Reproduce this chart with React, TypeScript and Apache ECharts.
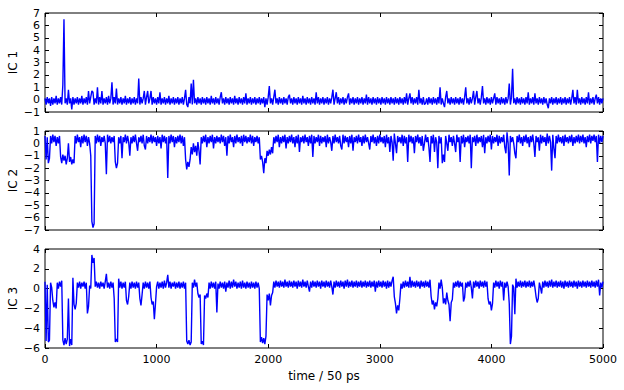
import React, { useEffect, useRef } from "react";
import * as echarts from "echarts";

// time step between stored samples (time / 50 ps)
const STEP = 10;

const ic1: number[] = [
  0.1, -0.4, 0.2, -0.3, 0.1, -0.5, 0.2, -0.4, 0.1, -0.3, 0.3, -0.4, 0.1, -0.3, 0.2, -0.4, 1.2, 6.5, -0.3, 0.1,
  -0.4, 0.8, -0.3, 0.1, -0.8, 0.2, -0.4, 0.1, -0.3, 0.2, -0.4, 0.1, -0.3, 0.3, -0.4, 0.1, -0.3, 0.2, -0.4, 0.7,
  -0.3, 0.2, 0.7, 0.6, -0.4, 0.1, -0.3, 1.0, -0.4, 0.2, -0.3, 0.7, -0.4, 0.1, -0.3, 0.2, -0.4, 0.3, -0.3, 0.1,
  1.4, -0.4, 0.2, -0.3, 0.9, -0.4, 0.1, -0.3, 0.2, -0.4, 0.1, -0.3, 0.3, -0.4, 0.1, -0.3, 0.2, -0.4, 0.1, -0.3,
  0.2, -0.4, 0.1, -0.3, 1.7, -0.4, 0.2, -0.3, 0.1, 0.7, -0.4, 0.2, 0.7, -0.3, 0.1, 0.7, -0.4, 0.2, -0.3, 0.1,
  -0.4, 0.2, -0.3, 0.6, -0.4, 0.1, -0.3, 0.2, -0.4, 0.1, -0.3, 0.3, -0.4, 0.1, -0.3, 0.2, -0.4, 0.1, -0.3, 0.2,
  -0.4, 0.1, -0.3, 0.2, -0.4, 0.1, 0.8, -0.4, -0.6, 0.2, -0.3, 1.3, -0.4, 1.6, -0.3, 0.1, -0.4, 0.2, -0.3, 0.1,
  -0.4, 0.2, -0.3, 0.1, -0.4, 0.2, -0.3, 0.1, -0.4, 0.3, -0.3, 0.1, -0.4, 0.2, -0.3, 0.1, -0.4, 0.2, 0.6, -0.3,
  0.1, -0.4, 0.2, -0.3, 0.1, -0.4, 0.2, -0.3, 0.1, -0.4, 0.3, -0.3, 0.1, -0.4, 0.2, -0.3, 0.1, -0.4, 0.2, -0.3,
  0.5, -0.4, 0.1, -0.3, 0.2, -0.4, 0.1, -0.3, 0.2, -0.4, 0.1, -0.3, 0.2, -0.4, 0.1, -0.3, 0.2, -0.6, 0.1, -0.4,
  0.2, 1.1, -0.3, 0.1, -0.4, 0.2, 0.8, -0.3, 0.1, -0.4, 0.2, -0.3, 0.1, -0.4, 0.2, -0.3, 0.1, -0.4, 0.2, 0.4,
  -0.3, 0.1, -0.4, 0.2, -0.3, 0.1, -0.4, 0.2, -0.3, 0.1, -0.4, 0.3, -0.3, 0.1, -0.4, 0.2, -0.3, 0.1, -0.4, 0.2,
  -0.3, 0.1, -0.4, 0.6, -0.3, 0.2, -0.4, 0.1, -0.3, 0.2, -0.4, 0.1, -0.3, 0.2, -0.4, 0.1, -0.3, 0.2, 0.8, -0.4,
  0.1, 0.6, -0.3, 0.2, -0.4, 0.1, -0.3, 0.2, -0.4, 0.1, -0.3, 0.2, 0.5, -0.4, 0.1, -0.3, 0.2, -0.4, 0.1, -0.3,
  0.2, -0.4, 0.1, -0.3, 0.2, -0.4, 0.1, -0.3, 0.4, -0.4, 0.2, -0.3, 0.1, -0.4, 0.2, -0.3, 0.1, -0.4, 0.2, -0.3,
  0.1, -0.4, 0.2, -0.3, 0.1, -0.4, 0.2, -0.3, 0.1, -0.4, 0.2, -0.3, 0.1, -0.4, 0.2, -0.3, 0.1, -0.4, 0.2, -0.3,
  0.1, -0.4, 0.2, -0.3, 0.5, -0.4, 0.1, 0.5, -0.3, 0.2, -0.4, 0.1, -0.3, 0.2, -0.4, 0.8, -0.3, 0.1, -0.4, 0.2,
  -0.4, -0.3, 0.1, -0.4, 0.2, -0.3, 0.1, -0.4, 0.2, -0.3, 0.1, -0.4, 0.2, -0.3, 1.0, -0.4, 0.1, -0.3, -0.6, 0.2,
  0.7, -0.3, 0.1, -0.4, 0.2, -0.3, 0.1, -0.4, 0.2, -0.3, 0.1, -0.4, 0.2, -0.3, 0.1, -0.4, 0.2, 1.0, -0.3, 0.1,
  -0.4, 0.2, -0.3, 0.1, 0.7, -0.4, 0.2, 0.7, -0.3, 0.1, -0.4, 0.2, 1.1, -0.3, 0.1, -0.4, 0.2, -0.3, 0.1, -0.4,
  0.2, -0.3, 0.1, 0.5, -0.4, 0.2, -0.3, 0.1, -0.4, 0.2, -0.3, 0.1, -0.4, 0.2, -0.3, 0.1, 1.3, -0.4, 0.2, 2.5,
  -0.3, 0.1, -0.4, 0.2, -0.3, 0.1, -0.4, 0.2, -0.3, 0.1, -0.4, 0.2, -0.3, 0.6, -0.4, 0.1, -0.3, 0.2, -0.4, 0.5,
  -0.3, 0.1, -0.4, 0.2, -0.3, 0.1, -0.4, 0.2, -0.3, 0.1, -0.4, -0.7, 0.1, -0.3, 0.2, -0.4, 0.1, -0.3, 0.2, -0.4,
  0.1, -0.3, 0.2, -0.4, 0.1, -0.3, 0.2, -0.4, 0.1, -0.3, 0.2, -0.4, 0.1, 0.8, -0.3, 0.2, -0.4, 0.8, -0.3, 0.1,
  -0.4, 0.2, -0.3, 0.1, -0.4, 0.2, -0.3, 0.6, -0.4, 0.1, -0.3, 0.2, -0.4, 0.1, 0.4, -0.3, 0.2, -0.4, 0.1, -0.3,
  0.1,
];

const ic2: number[] = [
  0.6, -1.3, 0.5, -1.6, -1.2, 0.6, 0.0, 0.7, 0.1, 0.6, -0.2, 0.5, 0.0, 0.6, -1.1, -1.6, -0.9, -1.4, -1.0, -1.7,
  -1.2, 0.0, -1.5, -1.1, -1.7, -1.3, -1.6, 0.6, 0.0, 0.7, 0.1, 0.5, -0.3, 0.6, 0.0, 0.7, 0.1, 0.6, -0.2, 0.5,
  0.0, -1.0, -6.3, -6.8, -6.5, 0.6, 0.0, 0.7, 0.1, 0.6, -0.2, 0.5, 0.1, 0.6, 0.0, -2.5, 0.7, 0.1, 0.6, 0.0,
  0.5, 0.1, 0.6, -1.5, -2.0, -1.6, 0.5, 0.0, 0.6, -1.2, 0.5, 0.1, 0.7, 0.0, 0.6, 0.1, -1.0, 0.5, 0.0, 0.6,
  0.1, 0.7, 0.0, -0.6, 0.5, 0.1, 0.6, 0.0, 0.7, -0.2, -0.5, 0.6, 0.0, 0.5, 0.1, 0.7, 0.0, 0.6, 0.1, 0.5,
  -0.2, 0.6, 0.0, 0.5, -0.4, 0.7, 0.1, 0.6, 0.0, 0.5, -2.8, 0.6, 0.0, 0.7, 0.1, 0.6, -0.3, 0.5, 0.0, 0.6,
  0.1, 0.7, 0.0, 0.6, -0.2, 0.5, -1.3, -2.1, -1.5, -1.9, -1.3, -0.3, -0.9, 0.0, -0.7, -0.2, -1.0, 0.1, -0.6, -1.7,
  0.5, 0.0, 0.6, 0.1, 0.7, -0.3, 0.5, 0.0, 0.6, 0.1, 0.7, -0.4, 0.5, 0.0, 0.6, 0.1, 0.5, 0.0, 0.7, 0.1,
  0.6, -0.2, 0.5, -1.0, 0.6, 0.0, 0.7, 0.1, 0.5, -0.3, 0.6, 0.0, 0.7, 0.1, 0.5, 0.0, 0.6, -0.2, 0.7, 0.1,
  0.6, 0.0, 0.5, 0.1, 0.7, 0.0, 0.6, -0.2, 0.5, 0.1, 0.6, 0.0, 0.5, -1.3, -1.0, -1.5, -2.4, -1.2, -1.6, -0.6,
  -1.0, -0.5, -0.9, -0.3, -0.8, 0.5, 0.0, 0.6, 0.1, 0.7, -0.3, 0.5, 0.0, 0.6, 0.1, 0.7, -0.4, 0.5, 0.0, 0.6,
  0.1, 0.7, 0.0, 0.5, -0.3, 0.6, 0.0, 0.7, -0.7, 0.5, 0.1, 0.6, 0.0, 0.7, 0.1, 0.5, -0.2, 0.6, 0.0, 0.7,
  -1.1, 0.6, 0.0, 0.5, 0.1, 0.7, -0.2, 0.6, 0.0, 0.5, 0.1, 0.6, -0.3, 0.7, 0.0, 0.5, 0.1, -0.6, 0.6, 0.0,
  0.7, 0.1, 0.5, 0.0, 0.6, -0.2, -0.5, 0.7, 0.0, 0.6, 0.1, 0.5, -0.3, 0.6, 0.0, 0.7, -0.6, 0.5, 0.1, 0.6,
  0.0, 0.7, 0.1, 0.5, -0.2, 0.6, 0.0, 0.7, 0.1, 0.5, 0.0, -0.5, 0.6, 0.1, 0.7, 0.0, 0.5, -0.2, 0.6, 0.0,
  0.7, 0.1, 0.5, 0.0, 0.6, -0.3, 0.7, 0.0, 0.5, -0.7, 0.6, 0.1, -1.4, 0.8, 0.0, -0.8, 0.6, 0.1, 0.5, 0.0,
  0.7, -0.2, 0.6, 0.0, 0.5, -1.5, 0.7, 0.1, 0.6, 0.0, 0.5, -0.8, 0.6, 0.1, 0.7, 0.0, 0.5, -0.2, 0.6, -0.6,
  0.0, 0.7, 0.1, 0.5, -0.3, -1.5, 0.6, 0.0, 0.7, -0.7, 0.5, 0.1, -2.0, 0.6, 0.0, 0.5, -1.6, -0.9, -1.5, 0.6,
  0.0, -0.6, 0.7, 0.1, 0.5, -0.2, 0.6, 0.0, -0.7, 0.7, 0.1, 0.5, -1.5, 0.6, 0.0, 0.7, -0.3, 0.5, 0.1, 0.6,
  0.0, 0.7, -2.0, 0.5, 0.1, 0.6, -0.2, 0.7, 0.0, 0.5, 0.1, 0.6, -0.3, 0.7, -0.8, 0.5, 0.0, 0.6, 0.1, 0.7,
  -0.5, 0.6, 0.0, 0.5, 0.1, 0.7, -0.2, 0.6, 0.0, 0.5, 0.1, 0.7, -0.3, -0.8, 0.9, 0.0, -2.6, 0.6, 0.1, 0.5,
  0.0, -0.8, -1.2, 0.6, 0.1, 0.7, 0.0, 0.5, -0.2, 0.6, 0.1, 0.7, 0.0, 0.5, -0.3, 0.6, 0.1, 0.7, 0.0, -1.1,
  0.6, 0.1, 0.5, -0.6, 0.7, 0.0, 0.6, 0.1, 0.5, -0.2, 0.8, 0.0, 0.6, 0.1, -2.2, 0.7, -0.4, -1.2, 0.6, 0.0,
  0.7, 0.1, 0.5, 0.0, 0.6, -0.2, 0.7, 0.1, 0.5, 0.0, 0.6, 0.1, 0.7, -0.2, 0.5, 0.0, 0.6, 0.1, 0.7, 0.0,
  0.6, 0.1, 0.7, 0.0, 0.5, -0.3, 0.6, 0.1, 0.7, 0.0, 0.6, 0.2, 0.7, 0.1, 0.6, -1.5, 0.7, 0.0, 0.6, 0.1,
  0.6,
];

const ic3: number[] = [
  0.7, -5.3, 0.4, -5.4, -5.2, 0.6, 0.1, -1.2, -1.9, -1.4, -2.0, 0.6, 0.0, 0.7, 0.2, 0.8, -5.2, -5.7, -5.0, -5.6,
  -5.1, -1.0, -5.8, -5.1, -5.7, 1.1, -1.6, -2.1, -1.5, 0.6, 0.1, 0.7, 0.0, 0.6, 0.2, 0.7, 0.0, 0.6, -2.5, -1.8,
  0.3, 0.0, 3.4, 2.6, 3.1, 0.2, 0.7, 0.1, 0.6, 0.0, 0.7, 0.2, 0.6, 0.0, 0.7, 1.5, 0.1, 0.6, 0.0, 0.7,
  0.1, 0.6, -1.0, -5.4, -5.1, -5.4, 1.0, 0.1, 0.7, 0.0, 0.6, 0.1, 0.7, -1.2, -1.6, -0.8, 0.6, 0.0, 0.7, 0.1,
  0.6, 0.0, 0.7, 0.1, 0.6, -1.0, -1.7, -0.6, 0.6, 0.0, 0.7, 0.1, 0.6, 0.0, 0.7, -0.9, -1.6, -1.3, -3.1, -1.5,
  0.2, 0.7, 0.0, 0.6, 0.1, 0.7, 0.0, 0.8, 0.1, 0.6, 1.4, 0.1, 0.7, 0.0, 0.6, 0.2, 0.7, 0.0, 0.6, 0.1,
  0.7, 0.0, 0.6, 0.1, 0.7, 0.0, 0.6, -5.3, -5.6, -5.2, -5.7, -5.4, 0.6, 0.1, 0.9, 0.2, 0.6, -0.5, -0.9, -0.6,
  -5.6, -5.3, -5.7, -0.7, -1.0, -0.5, -0.9, 0.6, 0.0, 0.7, 0.1, 0.6, 0.0, 0.7, -2.4, 0.5, 0.0, 0.7, 0.1, 0.6,
  0.0, 0.7, -0.3, 0.6, 0.1, 0.8, 0.0, 0.7, 0.1, 0.9, 0.2, 0.7, 0.0, 0.6, 0.1, 0.7, 0.0, 0.8, 0.1, 0.6,
  0.0, 0.7, 0.1, 0.6, 0.0, 0.7, 0.1, 0.6, 0.0, 0.7, 0.1, 0.6, 0.0, -5.4, -4.9, -5.5, -5.0, -5.6, -4.8, -0.6,
  -1.2, -0.5, -1.7, -0.7, -0.4, 0.7, 0.1, 0.8, 0.2, 0.7, 0.1, 0.8, 0.2, 0.7, 0.1, 0.9, 0.2, 0.7, 0.1, 0.8,
  0.2, 0.7, 0.1, 0.8, 0.2, 0.7, 0.0, 0.8, 0.2, 0.7, 0.1, 0.9, 0.2, 0.7, 0.1, 0.8, 0.2, -0.3, 0.7, 0.1,
  0.8, 0.2, 0.7, 0.1, 0.8, 0.2, 0.7, 0.0, 0.8, 0.2, 0.7, 0.1, 0.8, 0.2, 0.7, 0.1, 0.8, 0.2, -0.6, 0.7,
  0.1, 0.8, 0.2, 0.7, 0.1, 0.8, 0.2, 0.7, 0.0, 0.8, 0.2, 0.9, 0.1, 0.7, 0.2, 0.8, 0.1, 0.7, 0.2, 0.8,
  0.1, 0.7, 0.2, 0.8, 0.1, 0.7, 0.2, 0.8, 0.1, 0.7, 0.2, 0.8, 0.1, 0.7, 0.2, 0.8, -0.3, 0.7, 0.1, 0.8,
  0.2, 0.7, 0.1, 0.8, 0.2, 0.7, 0.0, 0.8, 0.1, 0.7, 0.2, 0.8, 1.2, -0.8, -1.5, -2.5, -1.7, -2.2, -1.0, 0.5,
  0.0, 0.7, 0.1, 0.8, 0.2, 0.7, 0.1, 1.2, 0.1, 0.8, 0.2, 0.7, 0.1, 0.8, 0.2, 0.7, 0.0, 0.8, 0.2, 0.7,
  0.1, 0.8, 0.2, 0.7, 0.1, 0.9, -0.8, -1.6, -1.2, -2.1, -1.4, -1.8, -1.0, 0.6, 0.0, 0.9, 0.1, -1.5, -1.0, -1.6,
  -0.4, -1.2, -1.6, -3.3, -1.4, -1.1, 0.6, 0.1, 0.7, 0.2, 0.8, 0.1, 0.7, 0.2, 0.6, -1.3, -0.9, 0.6, 0.1, 0.7,
  0.2, 0.8, 0.1, -1.0, 0.7, 0.1, 0.8, 0.2, 0.7, 0.0, 0.8, 0.2, 0.7, 0.1, 0.8, 0.2, 0.7, -1.0, -1.6, -1.3,
  -2.2, -1.5, 0.6, 0.1, 0.8, 0.2, 0.7, 0.0, 0.8, 0.2, 0.7, -1.2, 0.6, 0.1, 0.7, 0.2, -1.5, -5.6, -4.8, 0.4,
  0.1, -2.6, 1.0, 0.1, 0.7, 0.2, 0.8, 0.1, 0.7, 0.2, 0.8, 0.1, 0.7, 0.2, 0.8, 0.1, 0.7, 0.2, 0.8, 0.1,
  -0.8, -1.4, -1.0, 0.6, 0.1, -0.5, 0.7, 0.1, 0.8, 0.2, 0.7, 0.1, 0.8, 0.2, 0.9, 0.1, 0.7, 0.2, 0.8, 0.1,
  0.7, 0.2, 0.8, 0.1, 0.7, 0.0, 0.8, 0.2, 0.7, 0.1, 0.8, 0.2, 0.7, 0.1, 0.8, 0.2, 0.7, 0.0, 0.8, 0.2,
  0.7, 0.1, 0.8, 0.2, 0.7, 0.1, 0.8, 0.2, 0.7, 0.1, 0.8, 0.2, 0.7, 0.1, 0.8, 0.2, 0.9, -0.7, 0.6, 0.1,
  0.7,
];

const seriesNames = ["IC 1", "IC 2", "IC 3"];
const yRanges = [
  { min: -1, max: 7, interval: 1 },
  { min: -7, max: 1, interval: 1 },
  { min: -6, max: 4, interval: 2 },
];
const xRange = { min: 0, max: 5000, interval: 1000 };
const xLabel = "time / 50 ps";

const FONT = "DejaVu Sans";
const fmt = (v: number) => String(v).replace("-", "\u2212");

export default function App() {
  const ref = useRef<HTMLDivElement>(null);
  useEffect(() => {
    if (!ref.current) return;
    const chart = echarts.init(ref.current, undefined, { renderer: "svg" });
    const all = [ic1, ic2, ic3];
    const tops = [13, 131, 249];
    const h = 99;
    const grids = tops.map((t) => ({
      left: 45,
      right: 21,
      top: t,
      height: h,
      containLabel: false,
      outerBoundsMode: "none",
      show: true,
      borderColor: "#000",
      borderWidth: 1,
      backgroundColor: "transparent",
    }));
    const tick = { show: true, inside: true, length: 4, lineStyle: { color: "#000", width: 1 } };
    const noLine = { show: false, onZero: false };
    const xAxes: any[] = [];
    const yAxes: any[] = [];
    all.forEach((_, g) => {
      const last = g === all.length - 1;
      xAxes.push({
        type: "value",
        gridIndex: g,
        position: "bottom",
        ...xRange,
        axisLine: noLine,
        axisTick: tick,
        splitLine: { show: false },
        axisLabel: { show: last, color: "#000", fontSize: 11, fontFamily: FONT, margin: 6, formatter: fmt },
        name: last ? xLabel : "",
        nameLocation: "middle",
        nameGap: 22,
        nameMoveOverlap: false,
        nameTextStyle: { color: "#000", fontSize: 12, fontFamily: FONT },
      });
      xAxes.push({
        type: "value",
        gridIndex: g,
        position: "top",
        ...xRange,
        axisLine: noLine,
        axisTick: tick,
        splitLine: { show: false },
        axisLabel: { show: false },
      });
      yAxes.push({
        type: "value",
        gridIndex: g,
        position: "left",
        ...yRanges[g],
        axisLine: noLine,
        axisTick: tick,
        splitLine: { show: false },
        axisLabel: { color: "#000", fontSize: 11, fontFamily: FONT, margin: 5, formatter: fmt },
        name: seriesNames[g],
        nameLocation: "middle",
        nameGap: 26,
        nameMoveOverlap: false,
        nameRotate: 90,
        nameTextStyle: { color: "#000", fontSize: 12, fontFamily: FONT },
      });
      yAxes.push({
        type: "value",
        gridIndex: g,
        position: "right",
        ...yRanges[g],
        axisLine: noLine,
        axisTick: tick,
        splitLine: { show: false },
        axisLabel: { show: false },
      });
    });
    const series = all.map((vals, g) => ({
      type: "line",
      name: seriesNames[g],
      xAxisIndex: g * 2,
      yAxisIndex: g * 2,
      data: vals.map((v, i) => [i * STEP, v]),
      showSymbol: false,
      symbol: "none",
      lineStyle: { color: "#0000ff", width: 1.4 },
      clip: true,
    }));
    chart.setOption({
      animation: false,
      backgroundColor: "#fff",
      grid: grids,
      xAxis: xAxes,
      yAxis: yAxes,
      series,
    });
    return () => chart.dispose();
  }, []);
  return <div ref={ref} style={{ width: 624, height: 390, position: "absolute", left: 0, top: 0 }} />;
}
